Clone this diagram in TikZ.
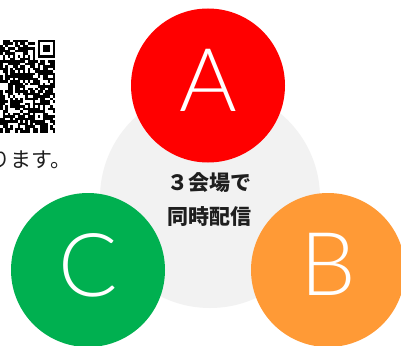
\documentclass[tikz,border=0pt]{standalone}
\usepackage{fontspec}
\newfontfamily\jpfont{Noto Sans CJK JP}
\newfontfamily\letterfont{Lato Light}
\definecolor{cred}{HTML}{FF0000}
\definecolor{corange}{HTML}{FF9A36}
\definecolor{cgreen}{HTML}{00B050}
\definecolor{cgray}{HTML}{F2F2F2}
\definecolor{ctext}{HTML}{1E1E1E}
\tikzset{
  venue/.style={circle, inner sep=0pt, minimum size=154pt},
  letter/.style={text=white, inner sep=0pt, font=\letterfont\fontsize{88}{88}\selectfont},
  jplabel/.style={text=ctext, inner sep=0pt, align=center, font=\jpfont\bfseries\fontsize{21}{34}\selectfont},
  mod/.style={fill=black}
}
\newcommand{\qrmod}[2]{\fill[mod] (-37.5+#2*2.5,40+#1*2.5) rectangle ++(2.5,2.5);}
\begin{document}
\begin{tikzpicture}[x=1pt,y=-1pt]
\useasboundingbox (0,0) rectangle (401,345);
\clip (0,0) rectangle (401,345);
\fill[white] (0,0) rectangle (401,345);
% QR code (partially visible)
\pgfmathsetseed{11}
\foreach \r in {0,...,36}{
  \foreach \c in {14,...,36}{
    \pgfmathrandominteger{\v}{0}{2}
    \ifnum\v>0 \qrmod{\r}{\c}\fi
  }
}
% finder pattern (top right)
\fill[white] (-37.5+29*2.5,40) rectangle ++(8*2.5,8*2.5);
\fill[black] (-37.5+30*2.5,40) rectangle ++(7*2.5,7*2.5);
\fill[white] (-37.5+31*2.5,40+2.5) rectangle ++(5*2.5,5*2.5);
\fill[black] (-37.5+32*2.5,40+5) rectangle ++(3*2.5,3*2.5);
% timing row
\fill[white] (-37.5+14*2.5,40+6*2.5) rectangle ++(15*2.5,2.5);
\foreach \c in {14,16,...,28}{\qrmod{6}{\c}}
% alignment pattern
\fill[black] (-37.5+28*2.5,40+28*2.5) rectangle ++(5*2.5,5*2.5);
\fill[white] (-37.5+29*2.5,40+29*2.5) rectangle ++(3*2.5,3*2.5);
\fill[black] (-37.5+30*2.5,40+30*2.5) rectangle ++(2.5,2.5);
% caption text
\node[anchor=east, inner sep=0pt, text=ctext, font=\jpfont\fontsize{21}{21}\selectfont] (cap) at (72,160) {ります。};
% central gray circle
\node[circle, fill=cgray, inner sep=0pt, minimum size=220pt] (center) at (210,198) {};
\node[jplabel] (lbl) at (209,200) {３会場で\\同時配信};
% venues
\node[venue, fill=cred] (A) at (208,85.5) {};
\node[venue, fill=corange] (B) at (328,270) {};
\node[venue, fill=cgreen] (C) at (88,270) {};
\node[letter] (la) at ([yshift=5.5pt]A.center) {A};
\node[letter] (lb) at ([yshift=6pt]B.center) {B};
\node[letter] (lc) at ([yshift=5pt]C.center) {C};
\end{tikzpicture}
\end{document}
